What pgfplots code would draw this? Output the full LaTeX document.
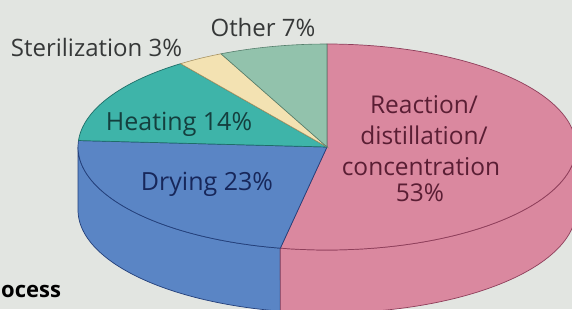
\documentclass[border=0pt]{standalone}
\usepackage{fontspec}
\setmainfont{Open Sans}
\usepackage{pgfplots}
\pgfplotsset{compat=1.18}

\definecolor{bg}{HTML}{E2E5E1}
\definecolor{cpink}{HTML}{DA889F}
\definecolor{dpink}{HTML}{8E3E5A}
\definecolor{cblue}{HTML}{5A85C5}
\definecolor{dblue}{HTML}{233F7A}
\definecolor{cteal}{HTML}{3EB4A9}
\definecolor{dteal}{HTML}{1E6E68}
\definecolor{cyel}{HTML}{F3E2B2}
\definecolor{dyel}{HTML}{A89464}
\definecolor{coth}{HTML}{92C2AC}
\definecolor{doth}{HTML}{557E6C}
\definecolor{tout}{HTML}{363838}
\definecolor{tpink}{HTML}{5A1E34}
\definecolor{tblue}{HTML}{17275A}
\definecolor{tteal}{HTML}{143F3E}

% shares of the pie (percent)
\def\pReact{53}
\def\pDry{23}
\def\pHeat{14}
\def\pSter{3}
\def\pOther{7}

% pie geometry (picture units)
\def\cx{327}\def\cy{162}\def\ra{249}\def\rb{103}\def\dd{63}

\pgfmathsetmacro\aA{90}
\pgfmathsetmacro\aB{\aA-3.6*\pReact}
\pgfmathsetmacro\aC{\aB-3.6*\pDry}
\pgfmathsetmacro\aD{\aC-3.6*\pHeat}
\pgfmathsetmacro\aE{\aD-3.6*\pSter}
\pgfmathsetmacro\aF{\aE-3.6*\pOther}

\begin{document}
\begin{tikzpicture}
\begin{axis}[
  width=572pt, height=309pt, scale only axis,
  xmin=0, xmax=572, ymin=0, ymax=309,
  hide axis, clip=true,
]
\fill[bg] (rel axis cs:0,0) rectangle (rel axis cs:1,1);

% side faces
\addplot[fill=cblue, draw=dblue, line width=0.7pt, domain=-180:\aB, samples=60]
  ({\cx+\ra*cos(x)},{\cy+\rb*sin(x)})
  -- plot[domain=\aB:-180, samples=60, variable=\t] ({\cx+\ra*cos(\t)},{\cy-\dd+\rb*sin(\t)}) -- cycle;
\addplot[fill=cpink, draw=dpink, line width=0.7pt, domain=\aB:0, samples=60]
  ({\cx+\ra*cos(x)},{\cy+\rb*sin(x)})
  -- plot[domain=0:\aB, samples=60, variable=\t] ({\cx+\ra*cos(\t)},{\cy-\dd+\rb*sin(\t)}) -- cycle;

% top faces
\addplot[fill=cpink, draw=dpink, line width=0.7pt, domain=\aB:\aA, samples=90]
  ({\cx+\ra*cos(x)},{\cy+\rb*sin(x)}) -- (axis cs:\cx,\cy) -- cycle;
\addplot[fill=cblue, draw=dblue, line width=0.7pt, domain=\aC:\aB, samples=60]
  ({\cx+\ra*cos(x)},{\cy+\rb*sin(x)}) -- (axis cs:\cx,\cy) -- cycle;
\addplot[fill=cteal, draw=dteal, line width=0.7pt, domain=\aD:\aC, samples=40]
  ({\cx+\ra*cos(x)},{\cy+\rb*sin(x)}) -- (axis cs:\cx,\cy) -- cycle;
\addplot[fill=cyel, draw=dyel, line width=0.6pt, domain=\aE:\aD, samples=15]
  ({\cx+\ra*cos(x)},{\cy+\rb*sin(x)}) -- (axis cs:\cx,\cy) -- cycle;
\addplot[fill=coth, draw=doth, line width=0.6pt, domain=\aF:\aE, samples=25]
  ({\cx+\ra*cos(x)},{\cy+\rb*sin(x)}) -- (axis cs:\cx,\cy) -- cycle;

% labels
\node[anchor=base, text=tout, font=\fontsize{24}{28}\selectfont] at (axis cs:96.5,253) {Sterilization 3\%};
\node[anchor=base, text=tout, font=\fontsize{24}{28}\selectfont] at (axis cs:263,273) {Other 7\%};
\node[anchor=base, text=tteal, font=\fontsize{25}{28}\selectfont] at (axis cs:179,179) {Heating 14\%};
\node[anchor=base, text=tblue, font=\fontsize{25}{28}\selectfont] at (axis cs:207,119) {Drying 23\%};
\node[anchor=base, text=tpink, font=\fontsize{24.5}{28}\selectfont] at (axis cs:424,196) {Reaction/};
\node[anchor=base, text=tpink, font=\fontsize{24.5}{28}\selectfont] at (axis cs:424,165) {distillation/};
\node[anchor=base, text=tpink, font=\fontsize{24.5}{28}\selectfont] at (axis cs:421,134) {concentration};
\node[anchor=base, text=tpink, font=\fontsize{24.5}{28}\selectfont] at (axis cs:420,108) {53\%};
\node[anchor=base west, inner sep=0pt, text=black, font=\bfseries\fontsize{22}{26}\selectfont] at (axis cs:1,12) {ocess};
\end{axis}
\pgfresetboundingbox
\useasboundingbox (current axis.south west) rectangle (current axis.north east);
\end{tikzpicture}
\end{document}
